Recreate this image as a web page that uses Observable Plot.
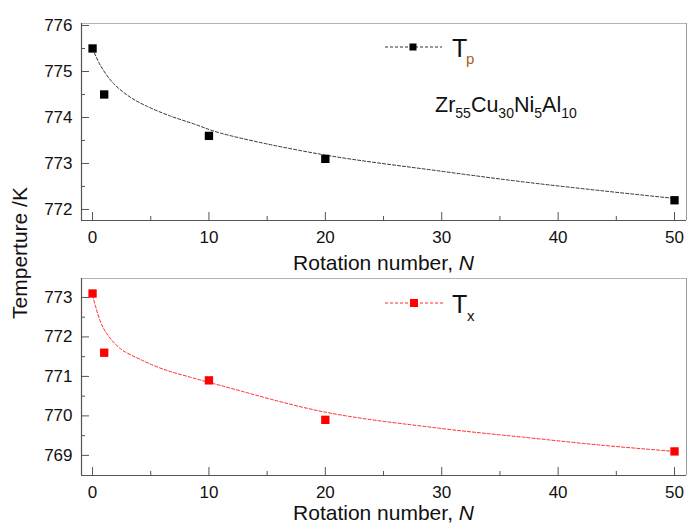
<!DOCTYPE html>
<html><head><meta charset="utf-8">
<script src="https://cdn.jsdelivr.net/npm/d3@7"></script>
<script src="https://cdn.jsdelivr.net/npm/@observablehq/plot@0.6"></script>
<style>
html,body{margin:0;padding:0;background:#fff;}
#wrap{position:relative;width:687px;height:525px;font-family:"Liberation Sans",Arial,sans-serif;background:#fff;}
#wrap svg.pl{position:absolute;left:0;}
#overlay{position:absolute;left:0;top:0;pointer-events:none;}
</style></head><body><div id="wrap"></div>
<script>
// measured data
const N = [0, 1, 10, 20, 50];
const Tp = [775.5, 774.5, 773.6, 773.1, 772.2];
const Tx = [773.1, 771.6, 770.9, 769.9, 769.1];
// dashed fitted curves
const fitNp = [0, 0.7, 1.8, 3.3, 4.7, 6.7, 8.7, 11, 19.6, 30, 37, 44, 50];
const fitTp = [775.5, 775.12, 774.74, 774.43, 774.24, 774.03, 773.86, 773.66, 773.2, 772.83, 772.6, 772.4, 772.24];
const fitNx = [0, 0.7, 1.3, 2.4, 4.1, 6.1, 8.4, 11, 19.9, 30, 37, 44, 50];
const fitTx = [773.05, 772.37, 772.05, 771.7, 771.43, 771.18, 770.98, 770.77, 770.1, 769.68, 769.46, 769.25, 769.1];
// ticks
const xTicks = [0, 10, 20, 30, 40, 50];
const xMinor = [5, 15, 25, 35, 45];
const yTicksP = [772, 773, 774, 775, 776];
const yMinorP = [772.5, 773.5, 774.5, 775.5];
const yTicksX = [769, 770, 771, 772, 773];
const yMinorX = [769.5, 770.5, 771.5, 772.5];

const xDomain = [-0.95, 51.03];

function panel({n, t, fn, ft, color, lineColor, yDomain, yTicks, yMinor, height, marginTop, marginBottom}) {
  const pts = n.map((v, i) => ({x: v, y: t[i]}));
  const fit = fn.map((v, i) => ({x: v, y: ft[i]}));
  const svg = Plot.plot({
    width: 687, height, marginLeft: 81, marginRight: 1, marginTop, marginBottom,
    style: {fontFamily: "'Liberation Sans', Arial, sans-serif", fontSize: "17px", color: "#111", background: "transparent", overflow: "visible"},
    x: {domain: xDomain},
    y: {domain: yDomain},
    marks: [
      Plot.ruleY([yDomain[1]], {stroke: "#b4b4b4", strokeWidth: 1}),
      Plot.ruleX([xDomain[1]], {stroke: "#9a9a9a", strokeWidth: 1}),
      Plot.axisX(xTicks, {tickSize: -8, tickPadding: 18, stroke: "#555", fill: "#111", label: null}),
      Plot.axisX(xMinor, {tickSize: -4, tickFormat: () => "", stroke: "#555", label: null}),
      Plot.axisY(yTicks, {tickSize: -8, tickPadding: 17, stroke: "#555", fill: "#111", label: null}),
      Plot.axisY(yMinor, {tickSize: -4, tickFormat: () => "", stroke: "#555", label: null}),
      Plot.ruleX([xDomain[0]], {stroke: "#555", strokeWidth: 1.2}),
      Plot.ruleY([yDomain[0]], {stroke: "#555", strokeWidth: 1.2}),
      Plot.line(fit, {x: "x", y: "y", curve: "catmull-rom", stroke: lineColor, strokeWidth: 1, strokeDasharray: "3,2"}),
      Plot.dot(pts, {x: "x", y: "y", symbol: "square", r: 4.7, fill: color, stroke: null})
    ]
  });
  svg.classList.add("pl");
  return svg;
}

const wrap = document.getElementById("wrap");
const p1 = panel({n: N, t: Tp, fn: fitNp, ft: fitTp, color: "#000", lineColor: "#333",
  yDomain: [771.76, 776.043], yTicks: yTicksP, yMinor: yMinorP, height: 262, marginTop: 23, marginBottom: 42});
p1.style.top = "0px";
const p2 = panel({n: N, t: Tx, fn: fitNx, ft: fitTx, color: "#ff0000", lineColor: "#ff2a2a",
  yDomain: [768.49, 773.48], yTicks: yTicksX, yMinor: yMinorX, height: 263, marginTop: 16, marginBottom: 50});
p2.style.top = "262px";
wrap.appendChild(p1);
wrap.appendChild(p2);

// overlay texts and legends
const ns = "http://www.w3.org/2000/svg";
const ov = document.createElementNS(ns, "svg");
ov.setAttribute("id", "overlay");
ov.setAttribute("width", 687);
ov.setAttribute("height", 525);
ov.setAttribute("font-family", "'Liberation Sans', Arial, sans-serif");
ov.innerHTML = `
  <text transform="translate(27,253) rotate(-90)" text-anchor="middle" font-size="21" fill="#111">Temperture /K</text>
  <text x="383.5" y="270" text-anchor="middle" font-size="21" fill="#111">Rotation number, <tspan font-style="italic">N</tspan></text>
  <text x="383.5" y="520" text-anchor="middle" font-size="21" fill="#111">Rotation number, <tspan font-style="italic">N</tspan></text>
  <line x1="385" y1="47" x2="442" y2="47" stroke="#333" stroke-width="1" stroke-dasharray="3,2"/>
  <rect x="409.5" y="43.5" width="7" height="7" fill="#000"/>
  <text x="452" y="56.7" font-size="25" fill="#111">T</text>
  <text x="466" y="64" font-size="15" fill="#a65a1e">p</text>
  <text x="435" y="112" font-size="21.5" fill="#111">Zr<tspan font-size="14" dy="6">55</tspan><tspan dy="-6" font-size="21.5">Cu</tspan><tspan font-size="14" dy="6">30</tspan><tspan dy="-6" font-size="21.5">Ni</tspan><tspan font-size="14" dy="6">5</tspan><tspan dy="-6" font-size="21.5">Al</tspan><tspan font-size="14" dy="6">10</tspan></text>
  <line x1="385" y1="303" x2="443" y2="303" stroke="#ff2a2a" stroke-width="1" stroke-dasharray="3,2"/>
  <rect x="410" y="299" width="8" height="8" fill="#ff0000"/>
  <text x="452" y="312.7" font-size="25" fill="#111">T</text>
  <text x="467" y="321" font-size="15" fill="#111">x</text>
`;
wrap.appendChild(ov);
</script>
</body></html>
